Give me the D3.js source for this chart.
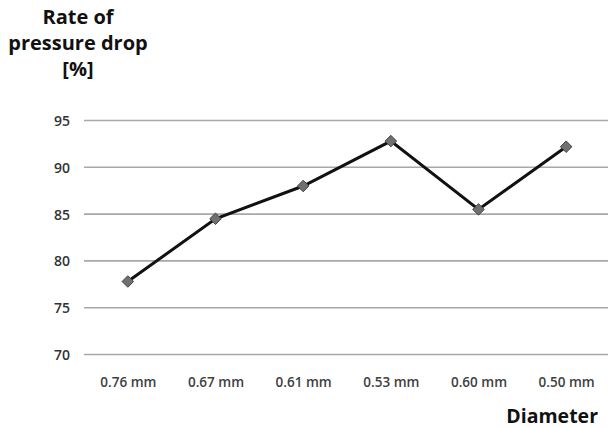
<!DOCTYPE html>
<html><head><meta charset="utf-8">
<script src="https://cdn.jsdelivr.net/npm/d3@7"></script>
<style>body{margin:0;background:#fff}svg{display:block}</style>
</head><body>
<script>
const categories = ["0.76 mm","0.67 mm","0.61 mm","0.53 mm","0.60 mm","0.50 mm"];
const values = [77.8, 84.5, 88.0, 92.8, 85.5, 92.2];
const yTicks = [70, 75, 80, 85, 90, 95];
const yTitle = ["Rate of", "pressure drop", "[%]"];
const xTitle = "Diameter";

const W = 608, H = 428;
const svg = d3.select("body").append("svg").attr("width", W).attr("height", H);
const font = "'Open Sans', 'Noto Sans', sans-serif";

const x = d3.scalePoint().domain(categories).range([84, 610]).padding(0.5);
const y = d3.scaleLinear().domain([70, 95]).range([354.5, 120.5]);

// gridlines
svg.append("g").selectAll("line").data(yTicks).join("line")
  .attr("x1", 84).attr("x2", W)
  .attr("y1", d => y(d)).attr("y2", d => y(d))
  .attr("stroke", "#a8a8a8").attr("stroke-width", 1.6);

// y axis labels
const yAxis = d3.axisLeft(y).tickValues(yTicks).tickSize(0).tickPadding(0);
const gy = svg.append("g").attr("transform", "translate(70,0)").call(yAxis);
gy.select(".domain").remove();
gy.selectAll("text").attr("font-family", font).attr("font-size", 14)
  .attr("font-weight", 600).attr("fill", "#333").attr("dy", "0.35em");

// x axis labels
const xAxis = d3.axisBottom(x).tickSize(0).tickPadding(0);
const gx = svg.append("g").attr("transform", "translate(0,377)").call(xAxis);
gx.select(".domain").remove();
gx.selectAll("text").attr("font-family", font).attr("font-size", 13.5)
  .attr("font-weight", 600).attr("fill", "#404040").attr("dy", "0.71em");

// line
const line = d3.line().x((d, i) => x(categories[i])).y(d => y(d));
svg.append("path").datum(values).attr("d", line)
  .attr("fill", "none").attr("stroke", "#111").attr("stroke-width", 3)
  .attr("stroke-linejoin", "miter");

// markers
svg.append("g").selectAll("path").data(values).join("path")
  .attr("d", d3.symbol().type(d3.symbolDiamond2).size(85))
  .attr("transform", (d, i) => `translate(${x(categories[i])},${y(d)})`)
  .attr("fill", "#707070").attr("stroke", "#444").attr("stroke-width", 1);

// y title
svg.append("text").attr("x", 78).attr("y", 24)
  .attr("text-anchor", "middle").attr("font-family", font)
  .attr("font-size", 20).attr("font-weight", 700).attr("fill", "#111")
  .selectAll("tspan").data(yTitle).join("tspan")
  .attr("x", 78).attr("dy", (d, i) => i === 0 ? 0 : 26).text(d => d);

// x title
svg.append("text").attr("x", 598).attr("y", 423)
  .attr("text-anchor", "end").attr("font-family", font)
  .attr("font-size", 19.5).attr("font-weight", 700).attr("fill", "#111")
  .text(xTitle);
</script>
</body></html>
